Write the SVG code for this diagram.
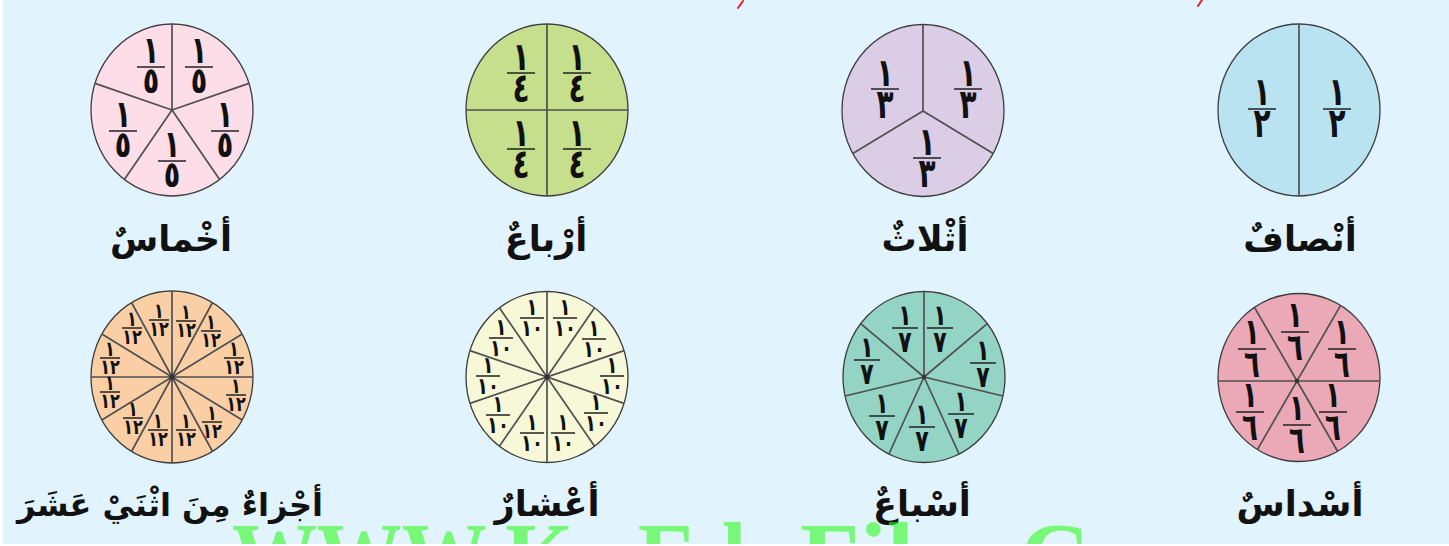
<svg xmlns="http://www.w3.org/2000/svg" xmlns:xlink="http://www.w3.org/1999/xlink" width="1449" height="546" viewBox="0 0 1449 546">
<style>
.ol{stroke:#3c3c3c;stroke-width:1.3}
.dv{stroke:#505050;stroke-width:1.7;fill:none}
.fr{font-family:"DejaVu Sans",sans-serif;font-weight:bold;fill:#111;text-anchor:middle}
.bar{stroke:#222;stroke-width:1.5}
.lbl{font-family:"DejaVu Sans",sans-serif;font-weight:bold;fill:#111;text-anchor:middle;font-size:35px}
.lbl.sm{font-size:32px}
.wm{font-family:"Liberation Serif",serif;font-weight:bold;font-size:98px;fill:#32fc20;fill-opacity:0.6}
</style>
<defs>
<g id="f2" class="fr" font-size="28"><text transform="translate(0,-4) scale(1,1.4)">١</text><line class="bar" x1="-14" x2="14"/><text transform="translate(0,28) scale(1,1.45)">٢</text></g>
<g id="f3" class="fr" font-size="28"><text transform="translate(0,-3) scale(1,1.4)">١</text><line class="bar" x1="-14" x2="14"/><text transform="translate(0,29) scale(1,1.45)">٣</text></g>
<g id="f4" class="fr" font-size="28"><text transform="translate(0,-3) scale(1,1.4)">١</text><line class="bar" x1="-14" x2="14"/><text transform="translate(0,29) scale(1,1.45)">٤</text></g>
<g id="f5" class="fr" font-size="27"><text transform="translate(0,-4) scale(1,1.4)">١</text><line class="bar" x1="-14" x2="14"/><text transform="translate(0,26) scale(1,1.35)">٥</text></g>
<g id="f6" class="fr" font-size="26"><text transform="translate(0,-5) scale(1,1.4)">١</text><line class="bar" x1="-14" x2="14"/><text transform="translate(0,28) scale(1,1.45)">٦</text></g>
<g id="f7" class="fr" font-size="22"><text transform="translate(0,-3) scale(1,1.3)">١</text><line class="bar" x1="-13" x2="13"/><text transform="translate(0,24) scale(1,1.35)">٧</text></g>
<g id="f10" class="fr" font-size="18"><text transform="translate(0,-3) scale(1,1.3)">١</text><line class="bar" x1="-12" x2="12"/><text transform="translate(0,18) scale(1,1.3)">١٠</text></g>
<g id="f12" class="fr" font-size="16"><text transform="translate(0,-2) scale(1,1.3)">١</text><line class="bar" x1="-10" x2="10"/><text transform="translate(0,16) scale(1,1.3)">١٢</text></g>
</defs>
<rect x="0" y="0" width="1449" height="546" fill="#ffffff"/>
<rect x="3" y="0" width="1446" height="544" fill="#e1f3fc"/>
<g id="cut-marks" stroke="#e8202a" stroke-width="2" stroke-linecap="round">
<line x1="738" y1="8" x2="743" y2="1"/>
<line x1="1198" y1="6" x2="1202" y2="0"/>
</g>

<g id="fifths">
<ellipse class="ol" cx="172" cy="110" rx="81" ry="86" fill="#fcdde8"/>
<path class="dv" d="M172,110L172,24M172,110L249,83.4M172,110L219.6,179.6M172,110L124.4,179.6M172,110L95,83.4"/>
<use xlink:href="#f5" x="151" y="67"/><use xlink:href="#f5" x="199" y="67"/>
<use xlink:href="#f5" x="123" y="131"/><use xlink:href="#f5" x="225" y="131"/>
<use xlink:href="#f5" x="172" y="161"/>
<text class="lbl" x="171" y="251">أخْماسٌ</text>
</g>

<g id="quarters">
<ellipse class="ol" cx="547" cy="110" rx="81" ry="86" fill="#c6df8d"/>
<path class="dv" d="M547,24L547,196M466,110L628,110"/>
<use xlink:href="#f4" x="521" y="73"/><use xlink:href="#f4" x="577" y="73"/>
<use xlink:href="#f4" x="521" y="149"/><use xlink:href="#f4" x="577" y="149"/>
<text class="lbl" x="546" y="251">أرْباعٌ</text>
</g>

<g id="thirds">
<ellipse class="ol" cx="923" cy="110.5" rx="81" ry="86" fill="#dccde6"/>
<path class="dv" d="M923,111L923,24.5M923,111L993.2,153.5M923,111L852.8,153.5"/>
<use xlink:href="#f3" x="885" y="89"/><use xlink:href="#f3" x="968" y="89"/>
<use xlink:href="#f3" x="927" y="158"/>
<text class="lbl" x="925" y="251">أثْلاثٌ</text>
</g>

<g id="halves">
<ellipse class="ol" cx="1299" cy="110" rx="81" ry="86" fill="#b9e3f1"/>
<path class="dv" d="M1299,24L1299,196"/>
<use xlink:href="#f2" x="1262" y="109"/><use xlink:href="#f2" x="1337" y="109"/>
<text class="lbl" x="1300" y="251">أنْصافٌ</text>
</g>

<g id="twelfths">
<ellipse class="ol" cx="172" cy="377" rx="81" ry="86" fill="#facfa6"/>
<path class="dv" d="M253,377L91,377M242.2,420L101.8,334M212.5,451.5L131.5,302.5M172,463L172,291M131.5,451.5L212.5,302.5M101.8,420L242.2,334"/>
<circle cx="172" cy="377" r="2.5" fill="#333"/>
<use xlink:href="#f12" x="159" y="320"/><use xlink:href="#f12" x="186" y="321"/>
<use xlink:href="#f12" x="211" y="331"/><use xlink:href="#f12" x="234" y="358"/>
<use xlink:href="#f12" x="236" y="395"/><use xlink:href="#f12" x="212" y="422"/>
<use xlink:href="#f12" x="186" y="430"/><use xlink:href="#f12" x="158" y="430"/>
<use xlink:href="#f12" x="133" y="418"/><use xlink:href="#f12" x="110" y="392"/>
<use xlink:href="#f12" x="110" y="358"/><use xlink:href="#f12" x="132" y="328"/>
<text class="lbl sm" x="170" y="516">أجْزاءٌ مِنَ اثْنَيْ عَشَرَ</text>
</g>

<g id="tenths">
<ellipse class="ol" cx="547" cy="377" rx="81" ry="85.5" fill="#f6f8d8"/>
<path class="dv" d="M547,291.5L547,462.5M594.6,307.8L499.4,446.2M624,350.6L470,403.4M624,403.4L470,350.6M594.6,446.2L499.4,307.8"/>
<circle cx="547" cy="377" r="2.5" fill="#333"/>
<use xlink:href="#f10" x="532" y="318"/><use xlink:href="#f10" x="565" y="318"/>
<use xlink:href="#f10" x="594" y="339"/><use xlink:href="#f10" x="612" y="376"/>
<use xlink:href="#f10" x="596" y="413"/><use xlink:href="#f10" x="563" y="433"/>
<use xlink:href="#f10" x="532" y="433"/><use xlink:href="#f10" x="498" y="415"/>
<use xlink:href="#f10" x="488" y="376"/><use xlink:href="#f10" x="501" y="338"/>
<text class="lbl" x="547" y="516">أعْشارٌ</text>
</g>

<g id="sevenths">
<ellipse class="ol" cx="924" cy="377" rx="81" ry="85.5" fill="#94d4c4"/>
<path class="dv" d="M924,377L924,291.5M924,377L987.3,323.7M924,377L1003,396M924,377L959.1,454M924,377L888.9,454M924,377L845,396M924,377L860.7,323.7"/>
<circle cx="924" cy="377" r="2.2" fill="#333"/>
<use xlink:href="#f7" x="905" y="328"/><use xlink:href="#f7" x="940" y="328"/>
<use xlink:href="#f7" x="983" y="363"/><use xlink:href="#f7" x="961" y="414"/>
<use xlink:href="#f7" x="922" y="427"/><use xlink:href="#f7" x="882" y="416"/>
<use xlink:href="#f7" x="867" y="360"/>
<text class="lbl" x="922" y="516">أسْباعٌ</text>
</g>

<g id="sixths">
<ellipse class="ol" cx="1299" cy="377.5" rx="81" ry="84" fill="#eba9b7"/>
<path class="dv" d="M1218.5,381L1379.5,381M1254.5,307.4L1337.6,451.3M1340.6,305.4L1257.4,449.6"/>
<circle cx="1297" cy="381" r="2.2" fill="#333"/>
<use xlink:href="#f6" x="1252" y="349"/><use xlink:href="#f6" x="1295" y="332"/>
<use xlink:href="#f6" x="1342" y="349"/><use xlink:href="#f6" x="1250" y="412"/>
<use xlink:href="#f6" x="1297" y="425"/><use xlink:href="#f6" x="1333" y="412"/>
<text class="lbl" x="1300" y="516">أسْداسٌ</text>
</g>

<text class="wm" y="590"><tspan x="232" textLength="268" lengthAdjust="spacingAndGlyphs">WWW.</tspan><tspan x="505" textLength="290" lengthAdjust="spacingAndGlyphs">KwEdu</tspan><tspan x="800" textLength="420" lengthAdjust="spacingAndGlyphs">Files.Com</tspan></text>
<rect x="0" y="544" width="1449" height="2" fill="#ffffff"/>
</svg>
